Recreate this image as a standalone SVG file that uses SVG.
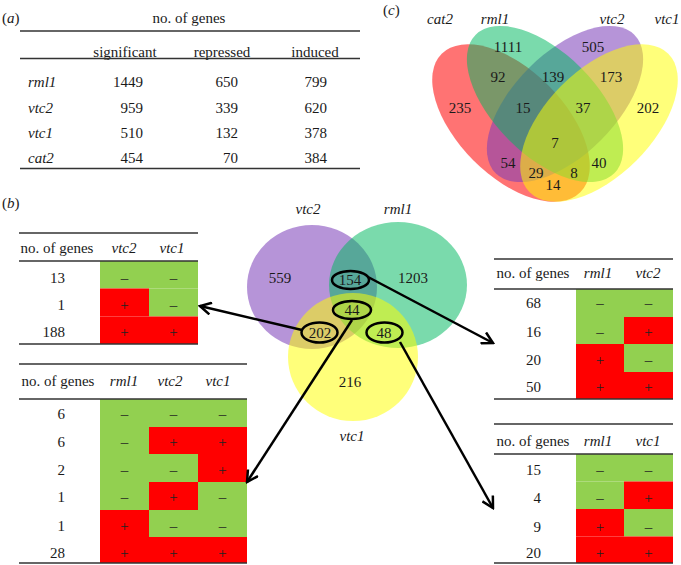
<svg xmlns="http://www.w3.org/2000/svg" width="681" height="565" viewBox="0 0 681 565">
<defs>
<style>
text{font-family:"Liberation Serif","Times New Roman",serif;font-size:15px;fill:#1a1a1a}
.i{font-style:italic}
.m{text-anchor:middle}
.e{text-anchor:end}
.rule{stroke:#333;stroke-width:1.4;fill:none}
.g{fill:#92d050}
.r{fill:#ff0000}
.s{font-size:15px;text-anchor:middle;fill:#222}
.ov{fill:none;stroke:#000;stroke-width:2.5}
.ar{fill:none;stroke:#000;stroke-width:2.5;marker-end:url(#ah)}
.cr{fill:#ff0000;fill-opacity:.55}
.cg{fill:#00b95f;fill-opacity:.52}
.cp{fill:#7a3cb8;fill-opacity:.55}
.cy{fill:#ffff00;fill-opacity:.52}
</style>
<marker id="ah" viewBox="0 0 14 14" refX="12" refY="7" markerWidth="14" markerHeight="14" orient="auto" markerUnits="userSpaceOnUse">
<path d="M1,1 L12,7 L1,13" fill="none" stroke="#000" stroke-width="2.5"/>
</marker>
</defs>
<rect width="681" height="565" fill="#fff"/>

<!-- (a) table -->
<g id="tableA">
<text x="2" y="23">(<tspan class="i">a</tspan>)</text>
<text x="189" y="23" class="m">no. of genes</text>
<line class="rule" x1="20" y1="31" x2="360" y2="31"/>
<text x="125" y="57" class="m">significant</text>
<text x="222" y="57" class="m">repressed</text>
<text x="315" y="57" class="m">induced</text>
<line class="rule" x1="20" y1="58.5" x2="360" y2="58.5"/>
<text x="28" y="87" class="i">rml1</text>
<text x="143" y="87" class="e">1449</text>
<text x="238" y="87" class="e">650</text>
<text x="327" y="87" class="e">799</text>
<text x="28" y="113" class="i">vtc2</text>
<text x="143" y="113" class="e">959</text>
<text x="238" y="113" class="e">339</text>
<text x="327" y="113" class="e">620</text>
<text x="28" y="138" class="i">vtc1</text>
<text x="143" y="138" class="e">510</text>
<text x="238" y="138" class="e">132</text>
<text x="327" y="138" class="e">378</text>
<text x="28" y="163" class="i">cat2</text>
<text x="143" y="163" class="e">454</text>
<text x="238" y="163" class="e">70</text>
<text x="327" y="163" class="e">384</text>
<line class="rule" x1="20" y1="168.5" x2="360" y2="168.5"/>
</g>

<!-- (c) four-set venn -->
<g id="vennC">
<text x="383" y="15">(<tspan class="i">c</tspan>)</text>
<ellipse class="cr" cx="511" cy="123" rx="98" ry="53" transform="rotate(45 511 123)"/>
<ellipse class="cp" cx="565" cy="104" rx="98" ry="51" transform="rotate(-45 565 104)"/>
<ellipse class="cg" cx="545" cy="104" rx="98" ry="51" transform="rotate(45 545 104)"/>
<ellipse class="cy" cx="599" cy="123" rx="98" ry="53" transform="rotate(-45 599 123)"/>
<text x="440" y="24" class="i m">cat2</text>
<text x="495" y="24" class="i m">rml1</text>
<text x="612" y="24" class="i m">vtc2</text>
<text x="667" y="24" class="i m">vtc1</text>
<text x="508" y="52" class="m">1111</text>
<text x="593" y="52" class="m">505</text>
<text x="498" y="82" class="m">92</text>
<text x="553" y="82" class="m">139</text>
<text x="611" y="82" class="m">173</text>
<text x="460" y="113" class="m">235</text>
<text x="523" y="113" class="m">15</text>
<text x="583" y="113" class="m">37</text>
<text x="648" y="113" class="m">202</text>
<text x="555" y="148" class="m">7</text>
<text x="508" y="168" class="m">54</text>
<text x="599" y="168" class="m">40</text>
<text x="536" y="178" class="m">29</text>
<text x="574" y="178" class="m">8</text>
<text x="553" y="190" class="m">14</text>
</g>

<text x="2" y="208">(<tspan class="i">b</tspan>)</text>

<!-- (b) three-set venn -->
<g id="vennB">
<ellipse class="cp" cx="312" cy="287" rx="65" ry="62"/>
<ellipse class="cg" cx="398" cy="285" rx="69" ry="63"/>
<ellipse class="cy" cx="353" cy="357" rx="65" ry="64"/>
<text x="308" y="214" class="i m">vtc2</text>
<text x="398" y="214" class="i m">rml1</text>
<text x="352" y="441" class="i m">vtc1</text>
<text x="280" y="283" class="m">559</text>
<text x="413" y="283" class="m">1203</text>
<text x="350" y="285" class="m">154</text>
<text x="352" y="315" class="m">44</text>
<text x="320" y="338" class="m">202</text>
<text x="384" y="338" class="m">48</text>
<text x="350" y="387" class="m">216</text>
</g>
<g id="ovals">
<ellipse class="ov" cx="350.5" cy="280" rx="18.5" ry="9"/>
<ellipse class="ov" cx="352" cy="310" rx="19" ry="9"/>
<ellipse class="ov" cx="319.5" cy="332.5" rx="18" ry="10"/>
<ellipse class="ov" cx="384.5" cy="332.5" rx="18" ry="10"/>
</g>

<!-- table vtc2/vtc1 -->
<g id="tableB1">
<line class="rule" x1="19" y1="233" x2="198" y2="233"/>
<text x="57" y="253" class="m">no. of genes</text>
<text x="124" y="253" class="i m">vtc2</text>
<text x="172" y="253" class="i m">vtc1</text>
<rect class="g" x="100" y="261" width="49" height="27.5"/>
<rect class="g" x="149" y="261" width="49" height="27.5"/>
<rect class="r" x="100" y="288.5" width="49" height="28"/>
<rect class="g" x="149" y="288.5" width="49" height="28"/>
<rect class="r" x="100" y="316.5" width="49" height="27.5"/>
<rect class="r" x="149" y="316.5" width="49" height="27.5"/>
<line class="rule" x1="19" y1="261" x2="198" y2="261"/>
<text x="65" y="283" class="e">13</text>
<text x="65" y="310" class="e">1</text>
<text x="65" y="337" class="e">188</text>
<text x="124.5" y="283" class="s">–</text><text x="173.5" y="283" class="s">–</text>
<text x="124.5" y="310" class="s">+</text><text x="173.5" y="310" class="s">–</text>
<text x="124.5" y="337" class="s">+</text><text x="173.5" y="337" class="s">+</text>
<line class="rule" x1="19" y1="344" x2="198" y2="344"/>
</g>

<!-- table rml1/vtc2/vtc1 -->
<g id="tableB2">
<line class="rule" x1="19" y1="364" x2="247" y2="364"/>
<text x="58" y="386" class="m">no. of genes</text>
<text x="124" y="386" class="i m">rml1</text>
<text x="170" y="386" class="i m">vtc2</text>
<text x="218" y="386" class="i m">vtc1</text>
<rect class="g" x="100" y="399" width="49" height="28"/>
<rect class="g" x="149" y="399" width="49" height="28"/>
<rect class="g" x="198" y="399" width="49" height="28"/>
<rect class="g" x="100" y="427" width="49" height="27"/>
<rect class="r" x="149" y="427" width="49" height="27"/>
<rect class="r" x="198" y="427" width="49" height="27"/>
<rect class="g" x="100" y="454" width="49" height="28"/>
<rect class="g" x="149" y="454" width="49" height="28"/>
<rect class="r" x="198" y="454" width="49" height="28"/>
<rect class="g" x="100" y="482" width="49" height="28"/>
<rect class="r" x="149" y="482" width="49" height="28"/>
<rect class="g" x="198" y="482" width="49" height="28"/>
<rect class="r" x="100" y="510" width="49" height="27"/>
<rect class="g" x="149" y="510" width="49" height="27"/>
<rect class="g" x="198" y="510" width="49" height="27"/>
<rect class="r" x="100" y="537" width="49" height="26"/>
<rect class="r" x="149" y="537" width="49" height="26"/>
<rect class="r" x="198" y="537" width="49" height="26"/>
<line class="rule" x1="19" y1="399" x2="247" y2="399"/>
<text x="65" y="419" class="e">6</text>
<text x="65" y="447" class="e">6</text>
<text x="65" y="475" class="e">2</text>
<text x="65" y="502" class="e">1</text>
<text x="65" y="531" class="e">1</text>
<text x="65" y="558" class="e">28</text>
<text x="124.5" y="419" class="s">–</text><text x="173.5" y="419" class="s">–</text><text x="222.5" y="419" class="s">–</text>
<text x="124.5" y="447" class="s">–</text><text x="173.5" y="447" class="s">+</text><text x="222.5" y="447" class="s">+</text>
<text x="124.5" y="475" class="s">–</text><text x="173.5" y="475" class="s">–</text><text x="222.5" y="475" class="s">+</text>
<text x="124.5" y="502" class="s">–</text><text x="173.5" y="502" class="s">+</text><text x="222.5" y="502" class="s">–</text>
<text x="124.5" y="531" class="s">+</text><text x="173.5" y="531" class="s">–</text><text x="222.5" y="531" class="s">–</text>
<text x="124.5" y="558" class="s">+</text><text x="173.5" y="558" class="s">+</text><text x="222.5" y="558" class="s">+</text>
<line class="rule" x1="19" y1="563" x2="247" y2="563"/>
</g>

<!-- table rml1/vtc2 -->
<g id="tableB3">
<line class="rule" x1="494" y1="259" x2="673" y2="259"/>
<text x="533" y="278" class="m">no. of genes</text>
<text x="598" y="278" class="i m">rml1</text>
<text x="648" y="278" class="i m">vtc2</text>
<rect class="g" x="576" y="289" width="48" height="28"/>
<rect class="g" x="624" y="289" width="49" height="28"/>
<rect class="g" x="576" y="317" width="48" height="27"/>
<rect class="r" x="624" y="317" width="49" height="27"/>
<rect class="r" x="576" y="344" width="48" height="28"/>
<rect class="g" x="624" y="344" width="49" height="28"/>
<rect class="r" x="576" y="372" width="48" height="27"/>
<rect class="r" x="624" y="372" width="49" height="27"/>
<line class="rule" x1="494" y1="289" x2="673" y2="289"/>
<text x="541" y="308" class="e">68</text>
<text x="541" y="337" class="e">16</text>
<text x="541" y="365" class="e">20</text>
<text x="541" y="392" class="e">50</text>
<text x="600" y="308" class="s">–</text><text x="648.5" y="308" class="s">–</text>
<text x="600" y="337" class="s">–</text><text x="648.5" y="337" class="s">+</text>
<text x="600" y="365" class="s">+</text><text x="648.5" y="365" class="s">–</text>
<text x="600" y="392" class="s">+</text><text x="648.5" y="392" class="s">+</text>
<line class="rule" x1="494" y1="399" x2="673" y2="399"/>
</g>

<!-- table rml1/vtc1 -->
<g id="tableB4">
<line class="rule" x1="494" y1="424" x2="673" y2="424"/>
<text x="533" y="446" class="m">no. of genes</text>
<text x="598" y="446" class="i m">rml1</text>
<text x="648" y="446" class="i m">vtc1</text>
<rect class="g" x="576" y="454" width="48" height="27.5"/>
<rect class="g" x="624" y="454" width="49" height="27.5"/>
<rect class="g" x="576" y="481.5" width="48" height="27.5"/>
<rect class="r" x="624" y="481.5" width="49" height="27.5"/>
<rect class="r" x="576" y="509" width="48" height="27.5"/>
<rect class="g" x="624" y="509" width="49" height="27.5"/>
<rect class="r" x="576" y="536.5" width="48" height="26.5"/>
<rect class="r" x="624" y="536.5" width="49" height="26.5"/>
<line class="rule" x1="494" y1="454" x2="673" y2="454"/>
<text x="541" y="475" class="e">15</text>
<text x="541" y="503" class="e">4</text>
<text x="541" y="532" class="e">9</text>
<text x="541" y="558" class="e">20</text>
<text x="600" y="475" class="s">–</text><text x="648.5" y="475" class="s">–</text>
<text x="600" y="503" class="s">–</text><text x="648.5" y="503" class="s">+</text>
<text x="600" y="532" class="s">+</text><text x="648.5" y="532" class="s">–</text>
<text x="600" y="558" class="s">+</text><text x="648.5" y="558" class="s">+</text>
<line class="rule" x1="494" y1="563" x2="673" y2="563"/>
</g>

<!-- connectors -->
<g id="connectors">
<line class="ar" x1="302" y1="330" x2="200" y2="306"/>
<line class="ar" x1="368" y1="277" x2="493" y2="343"/>
<line class="ar" x1="352" y1="320" x2="247" y2="482"/>
<line class="ar" x1="400" y1="342" x2="493" y2="508"/>
</g>
</svg>
